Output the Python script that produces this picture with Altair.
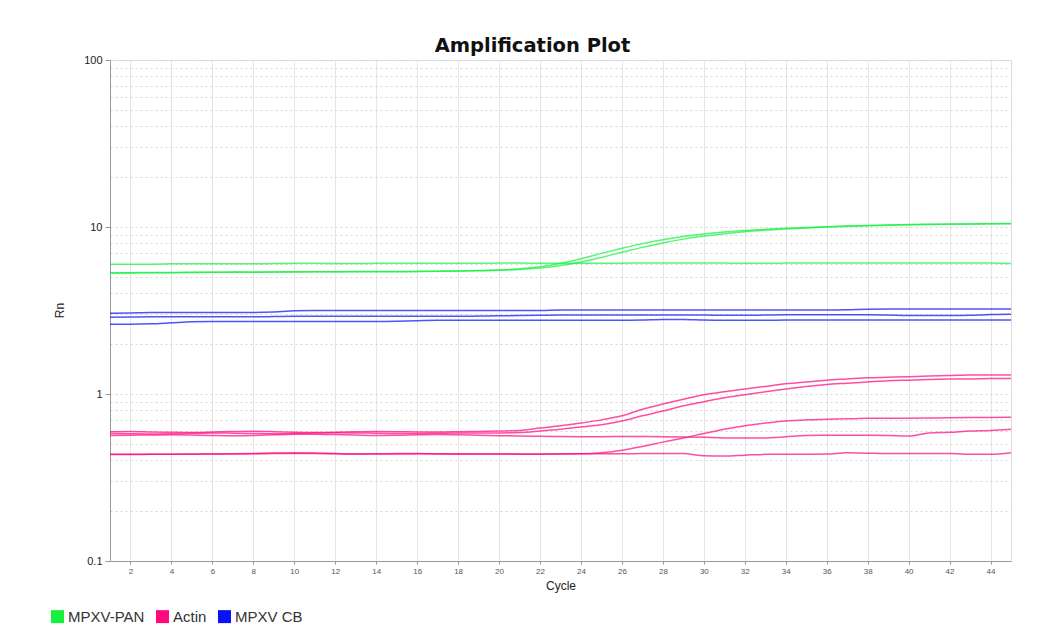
import altair as alt
import pandas as pd

cycles = list(range(1, 46))

# MPXV-PAN (green)
pan_flat = [5.98,5.98,5.99,6.02,6.03,6.03,6.03,6.03,6.04,6.06,6.06,6.05,6.04,6.06,6.07,
            6.07,6.07,6.07,6.07,6.08,6.08,6.07,6.07,6.07,6.06,6.07,6.08,6.08,6.08,6.09,
            6.09,6.06,6.06,6.08,6.09,6.09,6.09,6.09,6.09,6.09,6.09,6.09,6.09,6.08,6.04]
pan_amp1 = [5.33,5.33,5.34,5.34,5.35,5.36,5.37,5.38,5.38,5.39,5.40,5.40,5.41,5.41,5.41,
            5.42,5.44,5.46,5.49,5.53,5.62,5.78,6.05,6.45,6.95,7.45,7.95,8.40,8.78,9.08,
            9.32,9.52,9.68,9.82,9.94,10.04,10.13,10.21,10.28,10.34,10.38,10.41,10.44,10.46,10.48]
pan_amp2 = [5.31,5.31,5.32,5.33,5.34,5.35,5.36,5.36,5.37,5.38,5.39,5.39,5.40,5.40,5.40,
            5.41,5.43,5.45,5.47,5.51,5.57,5.68,5.88,6.18,6.58,7.05,7.55,8.03,8.46,8.82,
            9.12,9.37,9.57,9.74,9.88,10.00,10.10,10.18,10.25,10.31,10.36,10.40,10.43,10.45,10.47]

# MPXV CB (blue)
cb_1 = [3.04,3.06,3.08,3.08,3.08,3.08,3.08,3.08,3.10,3.15,3.16,3.16,3.16,3.16,3.16,
        3.16,3.16,3.16,3.16,3.16,3.16,3.16,3.18,3.18,3.18,3.18,3.18,3.18,3.18,3.18,
        3.18,3.18,3.18,3.18,3.18,3.18,3.19,3.22,3.23,3.23,3.23,3.23,3.23,3.23,3.23]
cb_2 = [2.88,2.89,2.90,2.90,2.90,2.90,2.90,2.90,2.91,2.92,2.92,2.92,2.92,2.92,2.92,
        2.92,2.92,2.92,2.93,2.94,2.95,2.96,2.97,2.97,2.97,2.97,2.97,2.97,2.97,2.97,
        2.96,2.96,2.97,2.98,2.98,2.98,2.98,2.98,2.97,2.95,2.95,2.95,2.96,2.99,3.00]
cb_3 = [2.62,2.62,2.63,2.67,2.71,2.72,2.72,2.72,2.72,2.72,2.72,2.72,2.72,2.72,2.73,
        2.75,2.76,2.76,2.76,2.76,2.76,2.76,2.76,2.76,2.76,2.76,2.77,2.79,2.79,2.77,
        2.76,2.76,2.76,2.77,2.77,2.77,2.77,2.77,2.77,2.77,2.77,2.77,2.77,2.77,2.77]

# Actin (pink)
act_1 = [0.595,0.597,0.593,0.590,0.588,0.592,0.596,0.598,0.595,0.590,0.588,0.590,0.594,0.596,0.595,
         0.593,0.592,0.594,0.597,0.600,0.605,0.625,0.645,0.670,0.700,0.740,0.810,0.870,0.930,0.990,
         1.030,1.070,1.110,1.150,1.180,1.210,1.230,1.250,1.260,1.270,1.280,1.290,1.300,1.300,1.300]
act_2 = [0.580,0.578,0.576,0.578,0.582,0.585,0.583,0.580,0.578,0.580,0.584,0.586,0.585,0.582,0.580,
         0.580,0.582,0.584,0.585,0.585,0.588,0.600,0.615,0.635,0.655,0.690,0.740,0.790,0.850,0.900,
         0.950,0.990,1.030,1.070,1.110,1.140,1.160,1.180,1.200,1.210,1.220,1.230,1.230,1.240,1.240]
act_3 = [0.565,0.566,0.568,0.570,0.568,0.565,0.563,0.565,0.570,0.574,0.575,0.572,0.568,0.565,0.566,
         0.570,0.572,0.570,0.566,0.563,0.560,0.558,0.556,0.555,0.555,0.556,0.556,0.555,0.553,0.550,
         0.546,0.545,0.546,0.555,0.565,0.566,0.567,0.566,0.565,0.560,0.585,0.590,0.600,0.605,0.615]
act_4 = [0.435,0.435,0.435,0.436,0.437,0.437,0.437,0.438,0.440,0.441,0.440,0.438,0.437,0.437,0.437,
         0.438,0.438,0.438,0.437,0.437,0.437,0.437,0.438,0.439,0.445,0.460,0.485,0.515,0.545,0.580,
         0.615,0.645,0.670,0.690,0.700,0.705,0.710,0.715,0.715,0.717,0.718,0.720,0.722,0.724,0.725]
act_5 = [0.434,0.434,0.435,0.435,0.436,0.437,0.438,0.440,0.443,0.445,0.444,0.440,0.437,0.438,0.441,
         0.440,0.437,0.436,0.437,0.437,0.436,0.436,0.437,0.438,0.438,0.439,0.440,0.441,0.440,0.427,
         0.425,0.430,0.435,0.435,0.436,0.437,0.445,0.442,0.440,0.440,0.440,0.440,0.436,0.435,0.445]

wells = [
    ("MPXV-PAN", "pan_flat", pan_flat),
    ("MPXV-PAN", "pan_amp1", pan_amp1),
    ("MPXV-PAN", "pan_amp2", pan_amp2),
    ("Actin", "act_1", act_1),
    ("Actin", "act_2", act_2),
    ("Actin", "act_3", act_3),
    ("Actin", "act_4", act_4),
    ("Actin", "act_5", act_5),
    ("MPXV CB", "cb_1", cb_1),
    ("MPXV CB", "cb_2", cb_2),
    ("MPXV CB", "cb_3", cb_3),
]

targets = ["MPXV-PAN", "Actin", "MPXV CB"]
target_colors = ["#14f23e", "#ff0a7e", "#0a10f8"]

x_ticks = list(range(2, 45, 2))
y_major = [0.1, 1, 10, 100]
y_minor = [0.2, 0.3, 0.4, 0.5, 0.6, 0.7, 0.8, 0.9,
           2, 3, 4, 5, 6, 7, 8, 9,
           20, 30, 40, 50, 60, 70, 80, 90]

rows = []
for tgt, well, vals in wells:
    for c, v in zip(cycles, vals):
        rows.append({"Cycle": c, "Rn": v, "Target": tgt, "Well": well})
df = pd.DataFrame(rows)

major_test = "indexof([0.1, 1, 10, 100], datum.value) >= 0"

chart = alt.Chart(df).mark_line(strokeWidth=1.5, opacity=0.72, interpolate="monotone").encode(
    x=alt.X("Cycle:Q",
            scale=alt.Scale(domain=[1, 45], nice=False, zero=False),
            axis=alt.Axis(values=x_ticks, title="Cycle", labelFontSize=8, labelColor="#555",
                          labelFont="Liberation Sans", tickSize=3, tickColor="#999",
                          domainColor="#999", gridColor="#e6e6e6", gridWidth=1,
                          titleFont="Liberation Sans", titleFontSize=12, titleFontWeight="normal",
                          titleColor="#222", titlePadding=5, labelPadding=3)),
    y=alt.Y("Rn:Q",
            scale=alt.Scale(type="log", domain=[0.1, 100], nice=False),
            axis=alt.Axis(values=y_major + y_minor, format="~g",
                          labelExpr=f"{major_test} ? datum.label : ''",
                          labelFont="Liberation Sans", labelFontSize=11, labelColor="#222",
                          labelOverlap=False, labelPadding=3,
                          tickSize=5, tickColor="#999",
                          tickOpacity={"condition": {"test": major_test, "value": 1}, "value": 0},
                          domainColor="#999", gridColor="#d4d4d4", gridDash=[2, 3],
                          title="Rn", titleFont="Liberation Sans", titleFontSize=12,
                          titleFontWeight="normal", titleColor="#222",
                          titleX=-44, titleY=250, titleAngle=-90)),
    color=alt.Color("Target:N",
                    scale=alt.Scale(domain=targets, range=target_colors),
                    legend=alt.Legend(title=None, orient="none", direction="horizontal",
                                      legendX=-60, legendY=549, gridAlign="each",
                                      symbolType="square", symbolSize=42, symbolStrokeWidth=6.5,
                                      symbolOpacity=1, labelFont="Liberation Sans",
                                      labelFontSize=15, labelColor="#333", labelOffset=3,
                                      columnPadding=1)),
    detail="Well:N",
).properties(
    width=901,
    height=501,
    autosize=alt.AutoSizeParams(type="none"),
    padding={"left": 102, "top": 52, "right": 25, "bottom": 67},
    title=alt.TitleParams("Amplification Plot", font="DejaVu Sans", fontSize=19.5,
                          fontWeight="bold", color="#111", anchor="middle", frame="group",
                          dx=-28, offset=-2),
).configure_view(stroke="#a8a8a8", strokeWidth=1).configure(background="white")

chart.save("out.html", embed_options={"renderer": "svg", "actions": False})
